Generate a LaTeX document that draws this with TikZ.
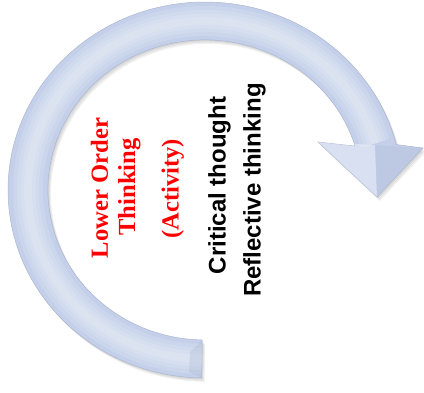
\documentclass[tikz,border=0pt]{standalone}
\usepackage{fontspec}
\setmainfont{Liberation Serif}
\setsansfont{Liberation Sans}
\definecolor{bandblue}{RGB}{196,208,234}
\definecolor{bandedge}{RGB}{172,183,208}
\definecolor{lowred}{RGB}{255,0,0}
\tikzset{
  redline/.style={rotate=90, anchor=base, inner sep=0pt, text=lowred,
    font=\fontsize{24.6}{28}\selectfont\bfseries},
  blackline/.style={rotate=90, anchor=base, inner sep=0pt,
    font=\sffamily\fontsize{24}{28}\selectfont\bfseries},
  arrowbody/.style={fill=bandblue, draw=bandedge, line width=0.5pt}
}
% outline of the circular arrow (units are pixels, y up)
\newcommand\cyclepath{(201.6,14) arc[start angle=269,end angle=14,x radius=197,y radius=188]
  -- (423,244) -- (377,195) -- (318,250) -- (355.1,245.9)
  arc[start angle=17,end angle=269,x radius=157,y radius=150] -- cycle}
\begin{document}
\begin{tikzpicture}[x=1pt,y=1pt]
  \useasboundingbox (0,0) rectangle (424,392);
  % soft shadow
  \foreach \d in {1,2,3}
    \fill[black,opacity=0.06,shift={(\d,-1.3*\d)}] \cyclepath;
  \path[arrowbody] \cyclepath;
  \begin{scope}
    \clip \cyclepath;
    \foreach \w in {30,22,15,8}
      \draw[white,opacity=0.13,line width=\w] (201.9,33) arc[start angle=269,end angle=16,x radius=177,y radius=169];
    \fill[white,opacity=0.35] (318,250) -- (375,247) -- (377,195) -- cycle;
    \fill[bandedge,opacity=0.25] (423,244) -- (375,247) -- (377,195) -- cycle;
    \fill[bandedge,opacity=0.3] (201.6,14) -- (202.3,52) -- (190,40) -- (189,20) -- cycle;
  \end{scope}

  \node[redline] (lower) at (108,204) {Lower Order};
  \node[redline] (think) at (135,205) {Thinking};
  \node[redline] (activ) at (178.7,203) {(Activity)};

  \node[blackline] (crit) at (225.5,206.5) {Critical thought};
  \node[blackline] (refl) at (260.5,202) {Reflective thinking};
\end{tikzpicture}
\end{document}
